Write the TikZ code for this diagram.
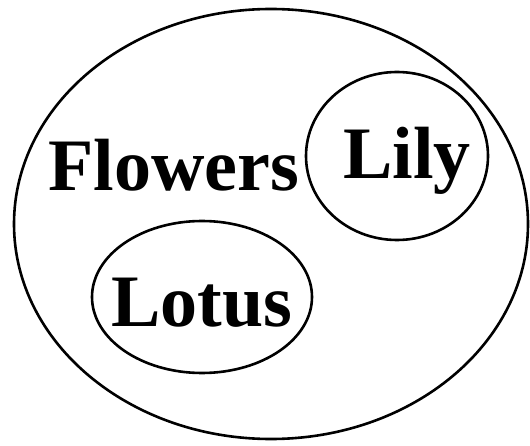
\documentclass[tikz,border=0pt]{standalone}
\usepackage{fontspec}
\setmainfont{Liberation Serif}
\usepackage{tikz}

\begin{document}
\begin{tikzpicture}[x=1pt,y=1pt,line width=2.6pt,
  setname/.style={font=\bfseries\fontsize{74}{74}\selectfont,inner sep=0pt,anchor=base west}]
\useasboundingbox (0,0) rectangle (530,445);
\draw (271,221) ellipse [x radius=257, y radius=215];
\draw (397,289) ellipse [x radius=91, y radius=84];
\draw (202,148) ellipse [x radius=110, y radius=76];
\node[setname] (flowers) at (47,254) {Flowers};
\node[setname] (lily) at (342,266) {Lily};
\node[setname] (lotus) at (110,119) {Lotus};
\end{tikzpicture}
\end{document}
